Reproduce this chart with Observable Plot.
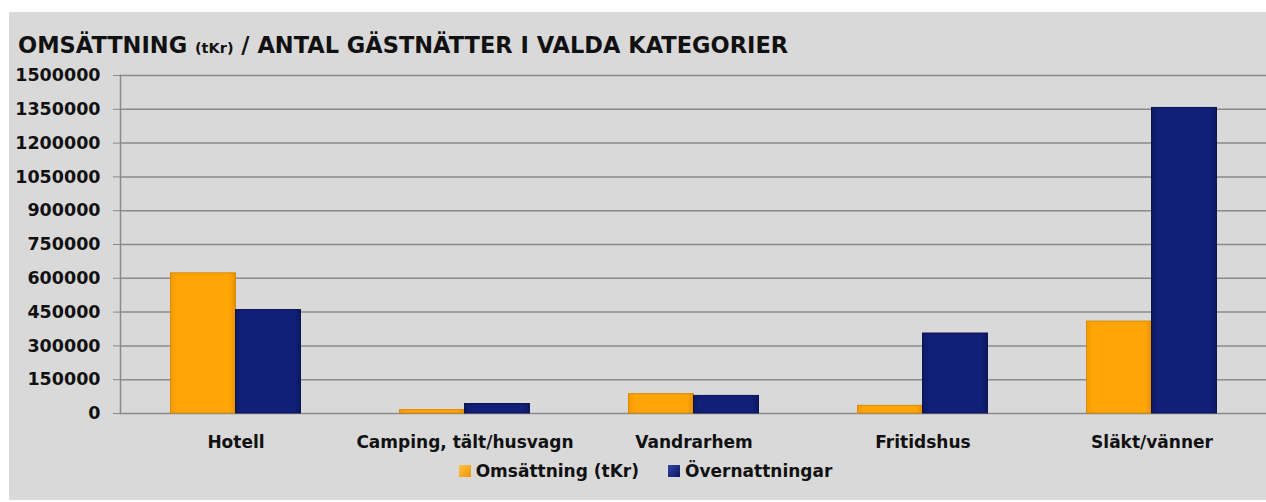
<!DOCTYPE html>
<html>
<head>
<meta charset="utf-8">
<script src="https://cdn.jsdelivr.net/npm/d3@7"></script>
<script src="https://cdn.jsdelivr.net/npm/@observablehq/plot@0.6"></script>
<style>
  html, body { margin: 0; padding: 0; background: #ffffff; }
  body { width: 1266px; height: 502px; overflow: hidden; position: relative; font-family: "DejaVu Sans", Verdana, sans-serif; }
  #box { position: absolute; left: 9px; top: 12px; width: 1257px; height: 488px; background: #d9d9d9; }
  #title { position: absolute; left: 9px; top: 20px; font-size: 22.5px; font-weight: bold; color: #111; white-space: nowrap; line-height: 26px; }
  #title .small { font-size: 14.5px; }
  #chart { position: absolute; left: 0; top: 50px; }
  #legend { position: absolute; top: 449px; left: 0; width: 1257px; display: flex; justify-content: center; gap: 29px; font-size: 17px; font-weight: bold; color: #111; padding-left: 16px; box-sizing: border-box; }
  #legend .item { display: flex; align-items: center; gap: 5px; }
  #legend .sw { width: 12px; height: 12px; display: inline-block; }
</style>
</head>
<body>
<div id="box">
  <div id="title">OMSÄTTNING <span class="small">(tKr)</span> / ANTAL GÄSTNÄTTER I VALDA KATEGORIER</div>
  <div id="chart"></div>
  <div id="legend"></div>
</div>
<script>
const categories = ["Hotell", "Camping, tält/husvagn", "Vandrarhem", "Fritidshus", "Släkt/vänner"];
const seriesNames = ["Omsättning (tKr)", "Övernattningar"];
const omsattning = [622000, 15000, 86000, 34000, 408000];
const overnattningar = [459000, 42000, 78000, 355000, 1356000];
const yTicks = [0, 150000, 300000, 450000, 600000, 750000, 900000, 1050000, 1200000, 1350000, 1500000];
const seriesColors = ["#ffa305", "#101f77"];
const seriesEdges = ["#d98a00", "#0a1550"];

const rows = [];
categories.forEach((c, i) => {
  rows.push({category: c, series: seriesNames[0], value: omsattning[i]});
  rows.push({category: c, series: seriesNames[1], value: overnattningar[i]});
});

const W = 1257;
const chart = Plot.plot({
  width: W,
  height: 395,
  marginLeft: 111,
  marginRight: 0,
  marginTop: 13,
  marginBottom: 44,
  style: {background: "transparent", fontFamily: "'DejaVu Sans', Verdana, sans-serif"},
  x: {domain: categories, paddingInner: 0.7164, paddingOuter: 0.3582, label: null},
  y: {domain: [0, 1500000], label: null},
  color: {domain: seriesNames, range: seriesColors},
  marks: [
    Plot.ruleY(yTicks, {stroke: "#8a8a8a", strokeWidth: 1.5}),
    Plot.barY(rows.filter(d => d.series === seriesNames[0]), {
      x: "category", y: "value", fill: "url(#gradO)", stroke: seriesEdges[0], strokeWidth: 1, dx: -32.5
    }),
    Plot.barY(rows.filter(d => d.series === seriesNames[1]), {
      x: "category", y: "value", fill: "url(#gradB)", stroke: seriesEdges[1], strokeWidth: 1, dx: 32.5
    }),
    Plot.frame({anchor: "left", stroke: "#8a8a8a", strokeWidth: 1.5}),
    Plot.axisY({
      ticks: yTicks, tickFormat: d => String(d), tickSize: 7, tickPadding: 13,
      stroke: "#8a8a8a", fontSize: 17.5, fontWeight: "bold", fill: "#111"
    }),
    Plot.axisX({
      tickSize: 0, tickPadding: 22, fontSize: 17, fontWeight: "bold", fill: "#111"
    })
  ]
});

// gradient definitions for a bevelled look
const svgNS = "http://www.w3.org/2000/svg";
const defs = document.createElementNS(svgNS, "defs");
function grad(id, stops) {
  const g = document.createElementNS(svgNS, "linearGradient");
  g.setAttribute("id", id);
  g.setAttribute("x1", "0"); g.setAttribute("x2", "1");
  g.setAttribute("y1", "0"); g.setAttribute("y2", "0");
  stops.forEach(([o, c]) => {
    const s = document.createElementNS(svgNS, "stop");
    s.setAttribute("offset", o); s.setAttribute("stop-color", c);
    g.appendChild(s);
  });
  defs.appendChild(g);
}
grad("gradO", [["0", "#f29a00"], ["0.1", "#ffa506"], ["0.9", "#ffa506"], ["1", "#e69200"]]);
grad("gradB", [["0", "#0d1a66"], ["0.1", "#111f78"], ["0.9", "#111f78"], ["1", "#0c1860"]]);
chart.insertBefore(defs, chart.firstChild);
document.getElementById("chart").appendChild(chart);

const legend = document.getElementById("legend");
seriesNames.forEach((name, i) => {
  const item = document.createElement("div");
  item.className = "item";
  const sw = document.createElement("span");
  sw.className = "sw";
  sw.style.background = i === 0
    ? "linear-gradient(135deg, #ffc247, #ef9600)"
    : "linear-gradient(135deg, #3345a8, #0b175c)";
  const t = document.createElement("span");
  t.textContent = name;
  item.appendChild(sw); item.appendChild(t);
  legend.appendChild(item);
});
</script>
</body>
</html>
